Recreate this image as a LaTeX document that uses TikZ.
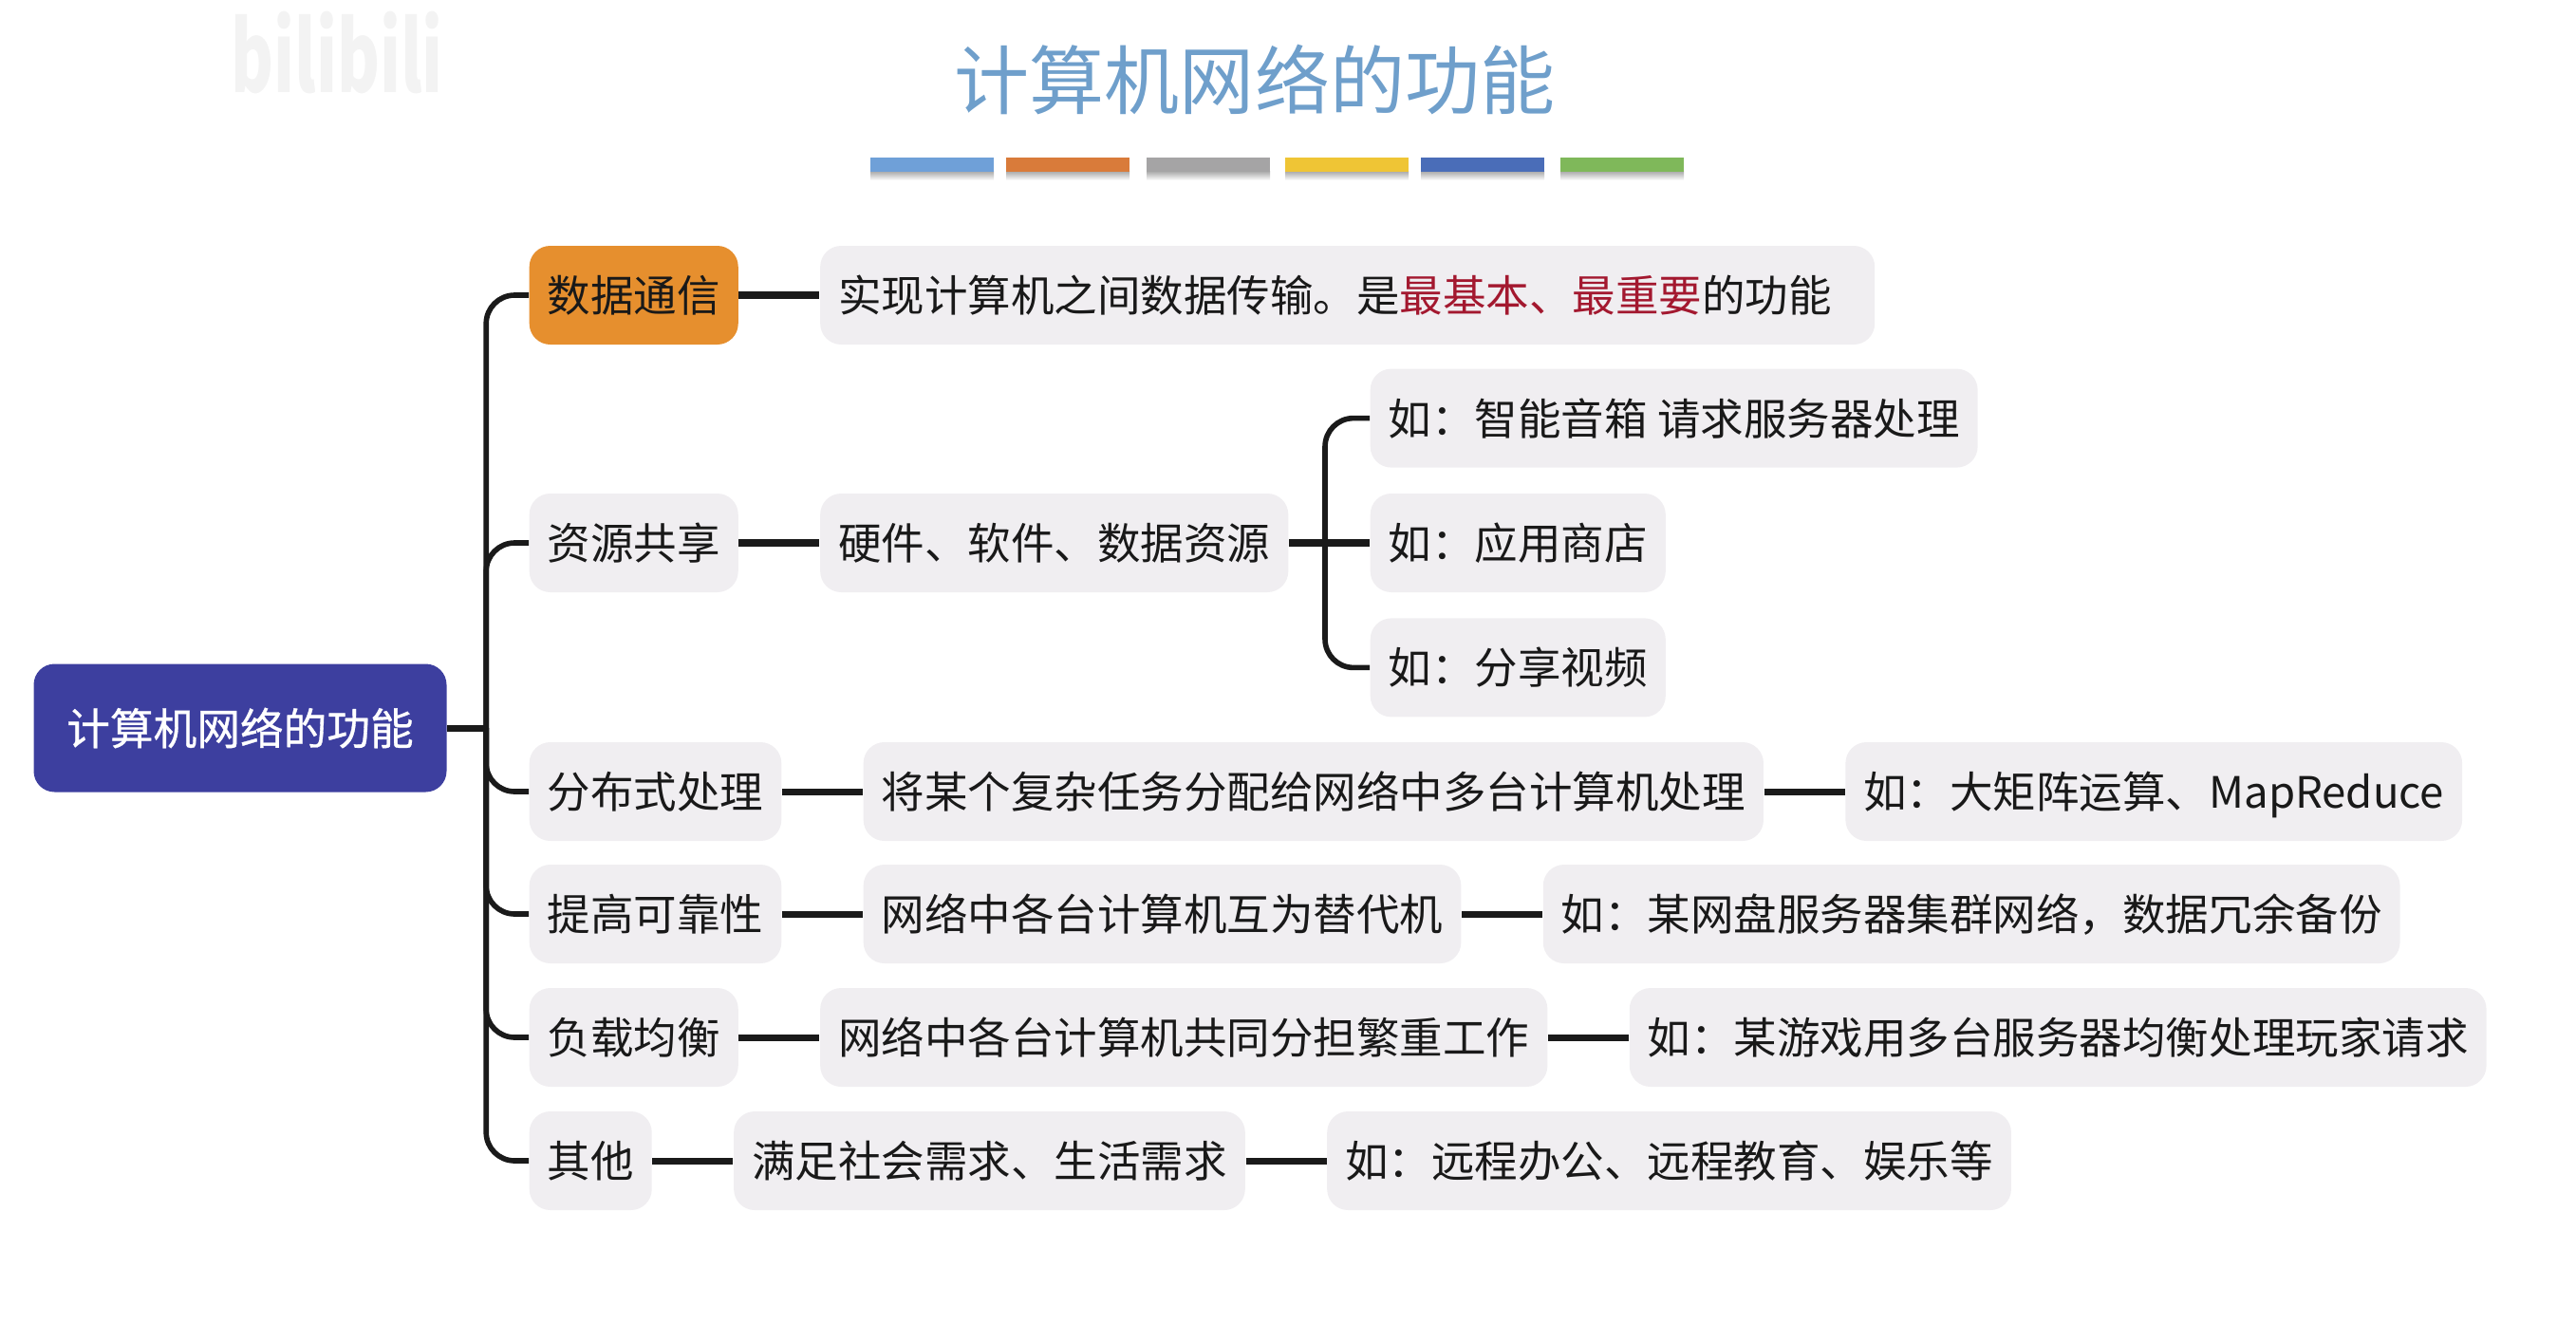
\documentclass[tikz,border=0pt]{standalone}
\usepackage{fontspec}
\setmainfont{Noto Sans CJK SC}
\newfontfamily\rootfont[FakeBold=0.7]{Noto Sans CJK SC}
\usetikzlibrary{positioning}

\definecolor{titleblue}{HTML}{6F9FCB}
\definecolor{rootblue}{HTML}{3D3F9F}
\definecolor{leafgray}{HTML}{F0EEF1}
\definecolor{hotorange}{HTML}{E68F2E}
\definecolor{keyred}{HTML}{A3182F}
\definecolor{wireblack}{HTML}{1A1A1A}
\definecolor{logogray}{HTML}{F3F3F3}

\begin{document}
\begin{tikzpicture}
	\tikzstyle{leaf}=[rectangle,rounded corners=0.22cm,fill=leafgray,text=black!90,font=\fontsize{12.95pt}{15pt}\selectfont,inner xsep=0.19cm,inner ysep=0pt,minimum height=1.04cm,text height=0.4cm,text depth=0.05cm]
	\tikzstyle{next}=[node distance=0.85cm]
	\tikzstyle{wire}=[draw=wireblack,line width=2pt]
	\tikzstyle{branch}=[draw=wireblack,line width=1.6pt,rounded corners=0.3cm]

	\useasboundingbox (0,0) rectangle (27.14,-13.94);

	\node (logo) at (3.55,-0.55) [text=logogray,font=\fontsize{19.5pt}{24pt}\selectfont\bfseries,yscale=1.5,transform shape] {bilibili};
	\node (title) at (13.22,-0.84) [text=titleblue,font=\fontsize{22.5pt}{27pt}\selectfont] {计算机网络的功能};
	\foreach \xstart/\barcolor in {9.17/6FA0D8,10.60/D97B3A,12.08/A5A4A5,13.54/EFC535,14.97/4A6DB8,16.44/7FB85A}{
		\definecolor{barcolor}{HTML}{\barcolor}
		\shade[top color=black!35,bottom color=white] (\xstart,-1.80) rectangle ++(1.30,-0.10);
		\fill[barcolor] (\xstart,-1.66) rectangle ++(1.30,-0.15);
	}

	\node (root) at (2.53,-7.67) [rectangle,rounded corners=0.22cm,fill=rootblue,text=white,font=\fontsize{13pt}{15pt}\rootfont,minimum width=4.35cm,minimum height=1.35cm] {计算机网络的功能};

	\node (comm) at (5.57,-3.11) [leaf,anchor=west,fill=hotorange] {数据通信};
	\node (commnote) [leaf,next,right=of comm,text width=10.73cm] {实现计算机之间数据传输。是{\color{keyred}最基本、最重要}的功能};

	\node (share) at (5.57,-5.72) [leaf,anchor=west] {资源共享};
	\node (sharekind) [leaf,next,right=of share] {硬件、软件、数据资源};
	\node (shareapp) [leaf,next,right=of sharekind] {如：应用商店};
	\node (sharespeaker) [leaf,above=0.26cm of shareapp.north west,anchor=south west] {如：智能音箱 请求服务器处理};
	\node (sharevideo) [leaf,below=0.26cm of shareapp.south west,anchor=north west] {如：分享视频};

	\node (dist) at (5.57,-8.34) [leaf,anchor=west] {分布式处理};
	\node (distnote) [leaf,next,right=of dist] {将某个复杂任务分配给网络中多台计算机处理};
	\node (distcase) [leaf,next,right=of distnote] {如：大矩阵运算、MapReduce};

	\node (safe) at (5.57,-9.63) [leaf,anchor=west] {提高可靠性};
	\node (safenote) [leaf,next,right=of safe] {网络中各台计算机互为替代机};
	\node (safecase) [leaf,next,right=of safenote] {如：某网盘服务器集群网络，数据冗余备份};

	\node (load) at (5.57,-10.93) [leaf,anchor=west] {负载均衡};
	\node (loadnote) [leaf,next,right=of load] {网络中各台计算机共同分担繁重工作};
	\node (loadcase) [leaf,next,right=of loadnote] {如：某游戏用多台服务器均衡处理玩家请求};

	\node (misc) at (5.57,-12.23) [leaf,anchor=west] {其他};
	\node (miscnote) [leaf,next,right=of misc] {满足社会需求、生活需求};
	\node (misccase) [leaf,next,right=of miscnote] {如：远程办公、远程教育、娱乐等};

	\draw[wire] (root.east) -- ++(0.41,0) coordinate (hub);
	\foreach \kid in {comm,share,dist,safe,load,misc}
		\draw[branch] (hub) |- (\kid.west);

	\draw[wire] (sharekind.east) -- (shareapp.west);
	\path (sharekind.east) -- ++(0.38,0) coordinate (sharehub);
	\draw[branch] (sharehub) |- (sharespeaker.west);
	\draw[branch] (sharehub) |- (sharevideo.west);

	\foreach \from/\to in {comm/commnote,share/sharekind,dist/distnote,distnote/distcase,safe/safenote,safenote/safecase,load/loadnote,loadnote/loadcase,misc/miscnote,miscnote/misccase}
		\draw[wire] (\from) -- (\to);
\end{tikzpicture}
\end{document}
